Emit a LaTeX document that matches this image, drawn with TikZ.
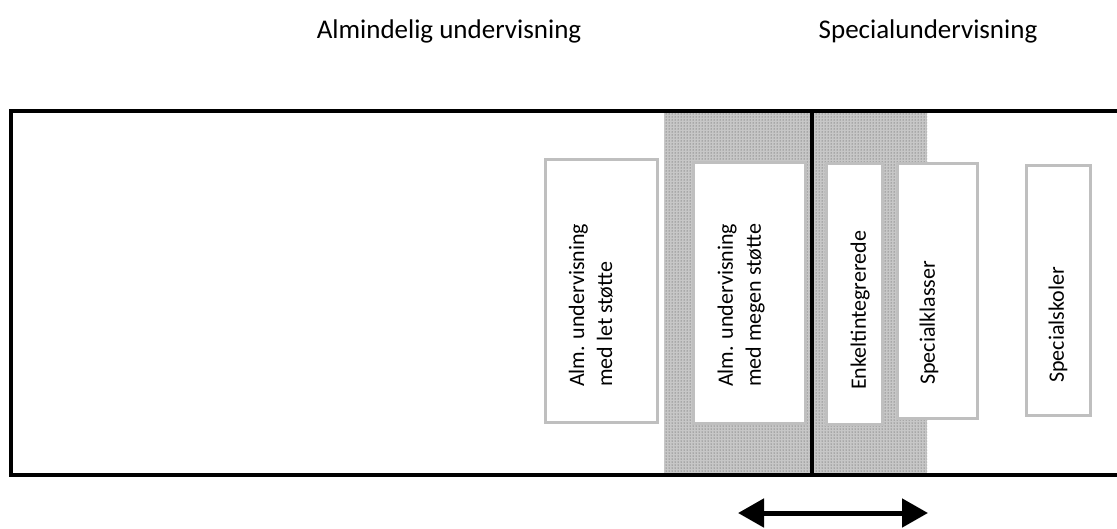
\documentclass[tikz,border=0pt]{standalone}
\usepackage{fontspec}
\setmainfont{Carlito}
\usetikzlibrary{patterns,arrows.meta}
\begin{document}
\begin{tikzpicture}[x=1pt,y=-1pt,
  heading/.style={font=\fontsize{27}{32}\selectfont, anchor=base, inner sep=0pt},
  formbox/.style={draw=black!25, line width=3pt, fill=white},
  formlabel/.style={rotate=90, anchor=west, align=left, inner sep=0pt,
                    font=\fontsize{22}{28}\selectfont},
  frame/.style={draw=black, line width=3.5pt},
  divider/.style={draw=black, line width=3.5pt},
  band/.style={fill=black!22, postaction={pattern=dots, pattern color=black!75}},
  spanarrow/.style={line width=5pt, {Triangle[length=26pt,width=28pt]}-{Triangle[length=26pt,width=28pt]}}]
\useasboundingbox (0,0) rectangle (1117,528);
\clip (0,0) rectangle (1117,528);

% headings
\node[heading] (hAlm) at (449,38) {Almindelig undervisning};
\node[heading] (hSpec) at (928,38) {Specialundervisning};

% dotted transition band
\path[band] (664,111) rectangle (927,475);

% forms of teaching
\draw[formbox] (545,159) rectangle (657,422);
\draw[formbox] (693,162) rectangle (805,423);
\draw[formbox] (826,163) rectangle (882,424);
\draw[formbox] (897,163) rectangle (977,418);
\draw[formbox] (1026,165) rectangle (1090,415);

\node[formlabel] (fLet) at (591,387) {Alm. undervisning\\med let støtte};
\node[formlabel] (fMegen) at (741,387) {Alm. undervisning\\med megen støtte};
\node[formlabel] (fEnkelt) at (860,390) {Enkeltintegrerede};
\node[formlabel] (fKlasser) at (929,385) {Specialklasser};
\node[formlabel] (fSkoler) at (1058,383) {Specialskoler};

% outer frame and dividing line
\draw[frame] (11,111) rectangle (1130,475);
\coordinate (dTop) at (812,111);
\coordinate (dBot) at (812,475);
\draw[divider] (dTop) -- (dBot);

% double arrow below the band
\coordinate (aL) at (738,513);
\coordinate (aR) at (928,513);
\draw[spanarrow] (aL) -- (aR);
\end{tikzpicture}
\end{document}
